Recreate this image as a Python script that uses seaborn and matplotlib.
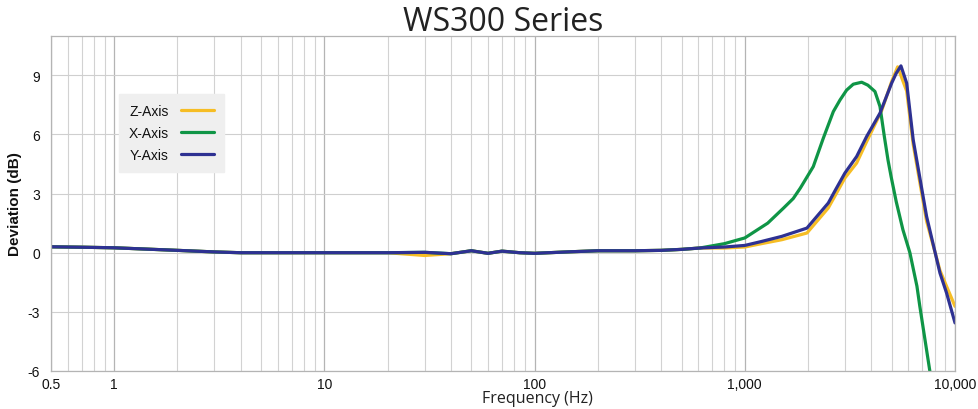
import numpy as np
import pandas as pd
import matplotlib
matplotlib.use('Agg')
import matplotlib.pyplot as plt
import matplotlib.ticker as mticker
import seaborn as sns

# shared low-frequency part
freq_low = [0.5, 0.7, 1, 2, 3, 4, 10, 20, 30, 40, 50, 60, 70, 85, 100, 150, 200, 300, 400, 500]
dev_low = [0.3, 0.28, 0.25, 0.12, 0.04, 0.0, 0.0, 0.0, 0.02, -0.05, 0.1, -0.03, 0.08, 0.0, -0.03, 0.05, 0.1, 0.1, 0.12, 0.17]
z_dip_30hz = -0.14

# high-frequency parts per axis
freq_z_hi = [612, 800, 1000, 1200, 1500, 1975, 2495, 2993, 3404, 3800, 4478, 4993, 5335, 5890, 6325, 7325, 8480, 9115, 10000]
dev_z_hi = [0.24, 0.24, 0.29, 0.46, 0.66, 1.0, 2.27, 3.79, 4.55, 5.64, 7.21, 8.68, 9.43, 8.2, 5.5, 1.6, -0.9, -1.7, -2.72]

freq_x_hi = [612, 800, 1000, 1285, 1530, 1700, 1837, 2117, 2361, 2637, 2838, 3050, 3281, 3597, 3850, 4160,
             4396, 4610, 4800, 4964, 5250, 5650, 6100, 6590, 6797, 7589, 8000]
dev_x_hi = [0.24, 0.46, 0.75, 1.5, 2.27, 2.75, 3.28, 4.37, 5.8, 7.16, 7.75, 8.25, 8.55, 8.65, 8.5, 8.18,
            7.42, 5.9, 4.7, 3.87, 2.6, 1.17, 0.0, -1.7, -2.7, -6.0, -7.5]

freq_y_hi = [612, 800, 1000, 1200, 1500, 1975, 2495, 2704, 2993, 3404, 3800, 4396, 4993, 5250, 5530, 5890, 6325, 7325, 8480, 9115, 10000]
dev_y_hi = [0.24, 0.29, 0.37, 0.57, 0.83, 1.25, 2.52, 3.2, 4.04, 4.88, 5.9, 7.08, 8.6, 9.1, 9.48, 8.6, 5.73, 1.84, -1.03, -2.04, -3.56]

x_ticks = [0.5, 1, 10, 100, 1000, 10000]
x_tick_labels = ['0.5', '1', '10', '100', '1,000', '10,000']
y_ticks = [-6, -3, 0, 3, 6, 9]

colors = {'Z-Axis': '#f6bd24', 'X-Axis': '#0f9546', 'Y-Axis': '#2e3192'}

dev_low_z = [z_dip_30hz if f == 30 else d for f, d in zip(freq_low, dev_low)]
df = pd.concat([
    pd.DataFrame({'Frequency': freq_low + freq_z_hi, 'Deviation': dev_low_z + dev_z_hi, 'Axis': 'Z-Axis'}),
    pd.DataFrame({'Frequency': freq_low + freq_x_hi, 'Deviation': dev_low + dev_x_hi, 'Axis': 'X-Axis'}),
    pd.DataFrame({'Frequency': freq_low + freq_y_hi, 'Deviation': dev_low + dev_y_hi, 'Axis': 'Y-Axis'}),
])

sns.set_style('white')
plt.rcParams['axes.unicode_minus'] = False
plt.rcParams['font.family'] = ['Liberation Sans', 'DejaVu Sans']

fig = plt.figure(figsize=(9.79, 4.10), dpi=100)
ax = fig.add_axes([0.052, 0.0927, 0.9235, 0.8173])

sns.lineplot(data=df, x='Frequency', y='Deviation', hue='Axis', palette=colors,
             hue_order=['Z-Axis', 'X-Axis', 'Y-Axis'], sort=False, estimator=None,
             linewidth=2.3, ax=ax)
for ln in ax.get_lines():
    ln.set_solid_joinstyle('round')
    ln.set_solid_capstyle('round')

ax.set_xscale('log')
ax.set_xlim(0.5, 10000)
ax.set_ylim(-6, 11)
ax.set_xticks(x_ticks)
ax.set_xticklabels(x_tick_labels)
ax.xaxis.set_minor_locator(mticker.LogLocator(base=10, subs=np.arange(2, 10)))
ax.xaxis.set_minor_formatter(mticker.NullFormatter())
ax.set_yticks(y_ticks)
ax.set_yticklabels([str(t) for t in y_ticks])

ax.grid(True, which='major', axis='x', color='#b4b4b4', linewidth=0.9)
ax.grid(True, which='minor', axis='x', color='#d2d2d2', linewidth=0.8)
ax.grid(True, which='major', axis='y', color='#cfcfcf', linewidth=0.8)
ax.set_axisbelow(True)
for s in ax.spines.values():
    s.set_color('#b4b4b4')
    s.set_linewidth(0.9)
ax.tick_params(axis='both', which='both', length=0, labelsize=10, colors='#111111')
ax.tick_params(axis='x', pad=4)
ax.tick_params(axis='y', pad=8)

ax.set_title('WS300 Series', fontsize=23, family='Open Sans', color='#222222', pad=4)
ax.set_xlabel('Frequency (Hz)', fontsize=11.5, family='Open Sans', color='#222222')
ax.xaxis.set_label_coords(0.538, -0.058)
ax.set_ylabel('Deviation (dB)', fontsize=11, fontweight='bold', color='#111111', labelpad=4)

leg = ax.legend(loc='upper left', bbox_to_anchor=(0.075, 0.827), borderaxespad=0,
                markerfirst=False, frameon=True, fancybox=False, facecolor='#efefef',
                edgecolor='#efefef', framealpha=1, fontsize=10, handlelength=2.4,
                labelspacing=0.6, borderpad=0.7, handletextpad=0.9, title=None)
for t in leg.get_texts():
    t.set_color('#111111')
for h in leg.get_lines():
    h.set_linewidth(2.3)

fig.savefig('out.png', dpi=100)
